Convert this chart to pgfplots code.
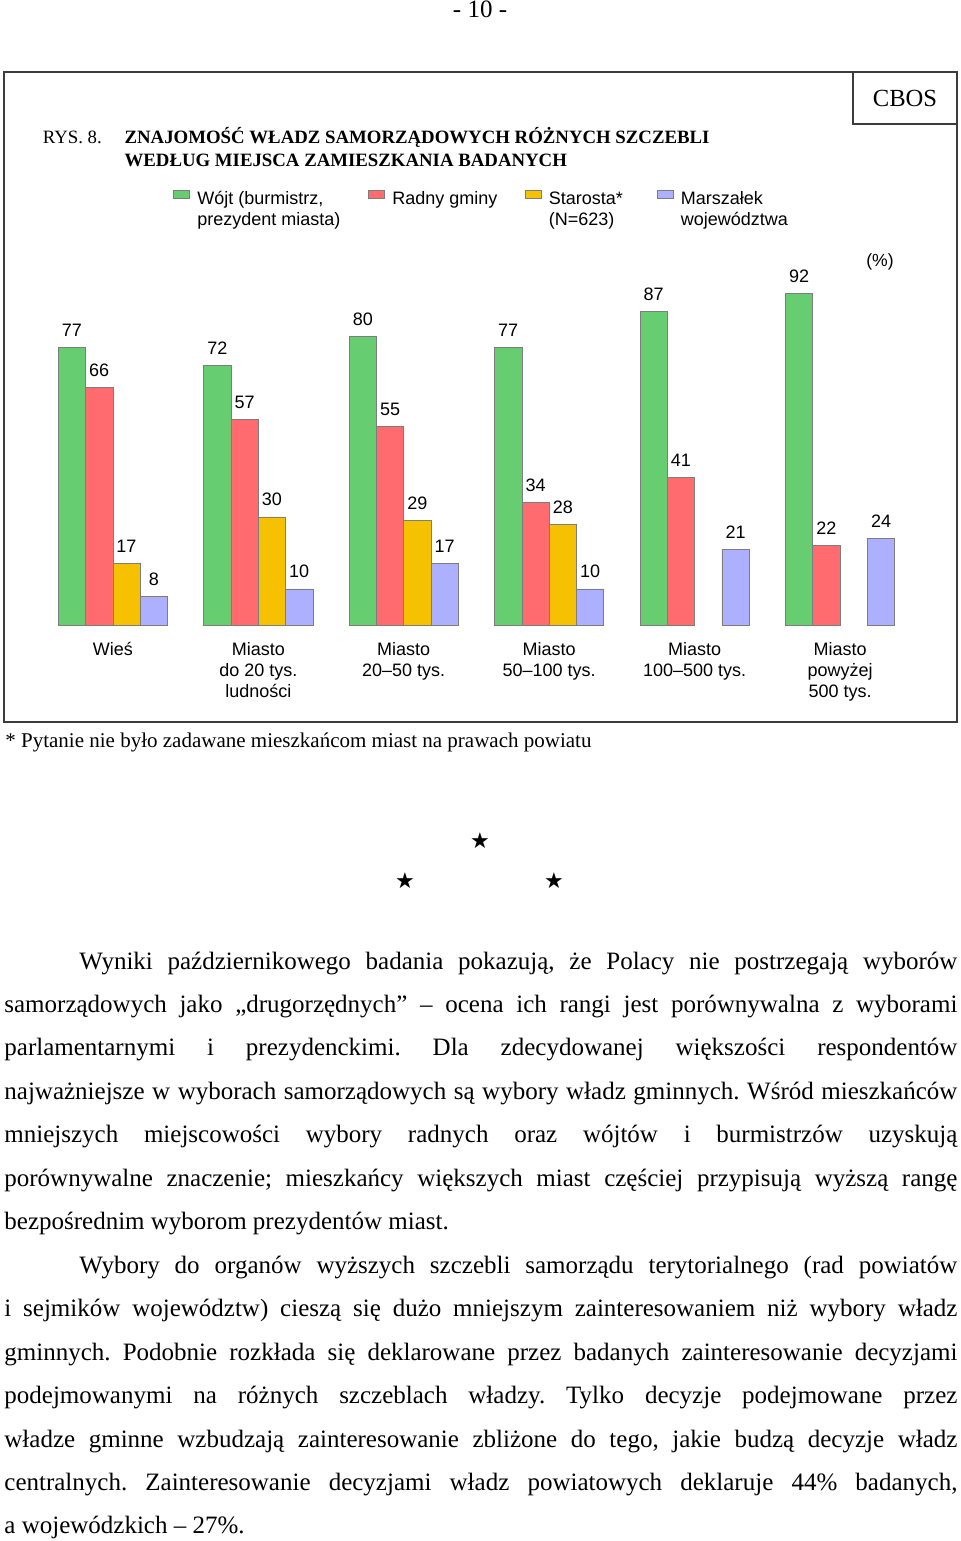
\documentclass[border=0pt]{standalone}
\usepackage{fontspec}
\setmainfont{Liberation Serif}
\newfontfamily\arial{Liberation Sans}
\newfontfamily\djv{DejaVu Sans}
\usepackage{pgfplots}
\pgfplotsset{compat=1.18}
\definecolor{cgreen}{RGB}{102,206,112}
\definecolor{cred}{RGB}{255,107,111}
\definecolor{cyellow}{RGB}{246,193,0}
\definecolor{cblue}{RGB}{172,176,255}
\definecolor{cedge}{RGB}{125,125,125}
\definecolor{frame}{RGB}{60,60,60}
\newcommand\JL[1]{\hbox to 476.5pt{#1}}
\newcommand\LL[1]{\hbox{#1}}
\frenchspacing
\begin{document}
\begin{tikzpicture}
\useasboundingbox (0,0) rectangle (480pt,-770.5pt);
% page number
\node[anchor=base, inner sep=0pt, font=\fontsize{12.5}{14}\selectfont] at (240pt,-9pt) {- 10 -};
% frames
\draw[frame, line width=0.7pt] (2pt,-36pt) rectangle (478.5pt,-361pt);
\draw[frame, line width=0.7pt] (426.5pt,-36pt) rectangle (478.5pt,-62pt);
\node[anchor=base, inner sep=0pt, font=\fontsize{12.3}{14}\selectfont] at (452.5pt,-53pt) {CBOS};
% title
\node[anchor=base west, inner sep=0pt, font=\fontsize{9.4}{9.5}\selectfont] at (21.2pt,-71.6pt) {RYS. 8.};
\node[anchor=base west, inner sep=0pt, font=\fontsize{9.4}{9.5}\selectfont\bfseries] at (62.1pt,-71.6pt) {ZNAJOMOŚĆ WŁADZ SAMORZĄDOWYCH RÓŻNYCH SZCZEBLI};
\node[anchor=base west, inner sep=0pt, font=\fontsize{9.4}{9.5}\selectfont\bfseries] at (62.1pt,-83pt) {WEDŁUG MIEJSCA ZAMIESZKANIA BADANYCH};
\node[anchor=base, inner sep=0pt, font=\arial\fontsize{8.8}{10}\selectfont] at (440pt,-133pt) {(\%)};
\begin{axis}[
  at={(20.05pt,-312.5pt)}, anchor=south west,
  scale only axis, width=436.35pt, height=180.3pt,
  xmin=-0.5, xmax=5.5, ymin=0, ymax=100,
  clip=false,
  ybar=0pt, bar width=0.1877,
  axis line style={draw=none}, tick style={draw=none},
  ytick=\empty, xtick={0,1,2,3,4,5},
  xticklabels={Wieś,{Miasto\\do 20 tys.\\ludności},{Miasto\\20–50 tys.},{Miasto\\50–100 tys.},{Miasto\\100–500 tys.},{Miasto\\powyżej\\500 tys.}},
  xticklabel style={align=center, anchor=north, inner sep=0pt, yshift=-4.3pt, font=\arial\fontsize{9}{10.5}\selectfont},
  /pgf/number format/assume math mode=true,
  nodes near coords,
  every node near coord/.append style={font=\arial\fontsize{9}{10}\selectfont, anchor=base, yshift=5.5pt, inner sep=0pt, text=black},
  legend columns=4,
  legend style={at={(0.1526,1.2072)}, anchor=north west, draw=none, fill=none,
    inner sep=0pt, outer sep=0pt, column sep=0pt, row sep=0pt,
    font=\arial\fontsize{9}{10.5}\selectfont,
    cells={anchor=base west}, nodes={inner sep=0pt, text depth=0pt}},
  every axis plot post/.append style={legend image code/.code={\fill[##1] (0pt,3pt) rectangle (8pt,7.3pt); \path (11.7pt,0pt);}},
]
\addplot[fill=cgreen, draw=cedge, line width=0.3pt] coordinates {(0,77) (1,72) (2,80) (3,77) (4,87) (5,92)};
\addlegendentry{\parbox[t]{85.5pt}{\raggedright Wójt (burmistrz,\\prezydent miasta)}}
\addplot[fill=cred, draw=cedge, line width=0.3pt] coordinates {(0,66) (1,57) (2,55) (3,34) (4,41) (5,22)};
\addlegendentry{\parbox[t]{66.3pt}{\raggedright Radny gminy}}
\addplot[fill=cyellow, draw=cedge, line width=0.3pt] coordinates {(0,17) (1,30) (2,29) (3,28)};
\addlegendentry{\parbox[t]{53.95pt}{\raggedright Starosta*\\(N=623)}}
\addplot[fill=cblue, draw=cedge, line width=0.3pt] coordinates {(0,8) (1,10) (2,17) (3,10) (4,21) (5,24)};
\addlegendentry{\parbox[t]{70pt}{\raggedright Marszałek\\województwa}}
\end{axis}
% footnote
\node[anchor=base west, inner sep=0pt, font=\fontsize{10.5}{12}\selectfont] at (2.5pt,-373.5pt) {* Pytanie nie było zadawane mieszkańcom miast na prawach powiatu};
% stars
\node[inner sep=0pt, font=\djv\fontsize{11}{11}\selectfont] at (240pt,-420.5pt) {★};
\node[inner sep=0pt, font=\djv\fontsize{11}{11}\selectfont] at (202.5pt,-440.5pt) {★};
\node[inner sep=0pt, font=\djv\fontsize{11}{11}\selectfont] at (277pt,-440.5pt) {★};
% body text
\node[anchor=base west, inner sep=0pt] at (2pt,-484.5pt) {\parbox[t]{476.5pt}{\fontsize{12.5}{21.73}\selectfont
\JL{\hspace*{37.5pt}Wyniki październikowego badania pokazują, że Polacy nie postrzegają wyborów}
\JL{samorządowych jako „drugorzędnych” – ocena ich rangi jest porównywalna z wyborami}
\JL{parlamentarnymi i prezydenckimi. Dla zdecydowanej większości respondentów}
\JL{najważniejsze w wyborach samorządowych są wybory władz gminnych. Wśród mieszkańców}
\JL{mniejszych miejscowości wybory radnych oraz wójtów i burmistrzów uzyskują}
\JL{porównywalne znaczenie; mieszkańcy większych miast częściej przypisują wyższą rangę}
\LL{bezpośrednim wyborom prezydentów miast.}
\JL{\hspace*{37.5pt}Wybory do organów wyższych szczebli samorządu terytorialnego (rad powiatów}
\JL{i sejmików województw) cieszą się dużo mniejszym zainteresowaniem niż wybory władz}
\JL{gminnych. Podobnie rozkłada się deklarowane przez badanych zainteresowanie decyzjami}
\JL{podejmowanymi na różnych szczeblach władzy. Tylko decyzje podejmowane przez}
\JL{władze gminne wzbudzają zainteresowanie zbliżone do tego, jakie budzą decyzje władz}
\JL{centralnych. Zainteresowanie decyzjami władz powiatowych deklaruje 44\% badanych,}
\LL{a wojewódzkich – 27\%.}
}};
\end{tikzpicture}
\end{document}
